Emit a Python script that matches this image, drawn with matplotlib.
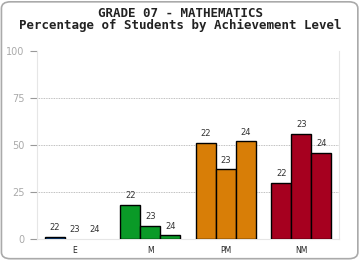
import numpy as np
import matplotlib
matplotlib.use('Agg')
from matplotlib import pyplot as plt
from matplotlib.patches import FancyBboxPatch

# Chart data.
levels = ['E', 'M', 'PM', 'NM']
years = ['22', '23', '24']
pct_22 = [1, 18, 51, 30]
pct_23 = [0, 7, 37, 56]
pct_24 = [0, 2, 52, 46]
level_colors = ['#0b4a99', '#0a9a27', '#d87e07', '#a6001f']
yticks = [0, 25, 50, 75, 100]

fig = plt.figure(figsize=(3.6, 2.6), dpi=100)
fig.patch.set_facecolor('white')

# Rounded outer frame.
frame = FancyBboxPatch((0.004, 0.005), 0.99, 0.988,
                       boxstyle='round,pad=0,rounding_size=0.025',
                       transform=fig.transFigure, facecolor='none',
                       edgecolor='#aaaaaa', linewidth=1.2)
fig.patches.append(frame)

fig.text(0.5, 0.948, 'GRADE 07 - MATHEMATICS', ha='center', va='center',
         family='DejaVu Sans Mono', weight='bold', fontsize=9, color='#222222')
fig.text(0.5, 0.902, 'Percentage of Students by Achievement Level',
         ha='center', va='center', family='DejaVu Sans Mono',
         weight='bold', fontsize=9, color='#222222')

ax = fig.add_axes([0.1028, 0.0808, 0.839, 0.723])

width = 0.265
x = np.arange(len(levels))
series = [pct_22, pct_23, pct_24]
for i, vals in enumerate(series):
    pos = x + (i - 1) * width
    lw = [1.0 if v > 0 else 0 for v in vals]
    bars = ax.bar(pos, vals, width, color=level_colors,
                  edgecolor='black', linewidth=lw, zorder=3)
    for b, v in zip(bars, vals):
        ax.text(b.get_x() + b.get_width() / 2, v + 2.5, years[i],
                ha='center', va='bottom', fontsize=6, color='#333333')

ax.set_xlim(-0.5, 3.5)
ax.set_ylim(0, 100)
ax.set_xticks(x)
ax.set_xticklabels(levels, fontsize=5.5, color='#222222')
ax.set_yticks(yticks)
ax.set_yticklabels([str(t) for t in yticks], fontsize=7, color='#aaaaaa')
ax.tick_params(axis='x', length=0, pad=5)
ax.tick_params(axis='y', length=5, color='#999999', width=0.8, pad=4)

for t in yticks[1:-1]:
    ax.axhline(t, color='#aaaaaa', linestyle=(0, (1, 1)), linewidth=0.6,
               zorder=1)

ax.spines['top'].set_visible(False)
ax.spines['left'].set_color('#e6e6e6')
ax.spines['bottom'].set_color('#e6e6e6')
ax.spines['right'].set_color('#e6e6e6')

fig.savefig('out.png', dpi=100)
